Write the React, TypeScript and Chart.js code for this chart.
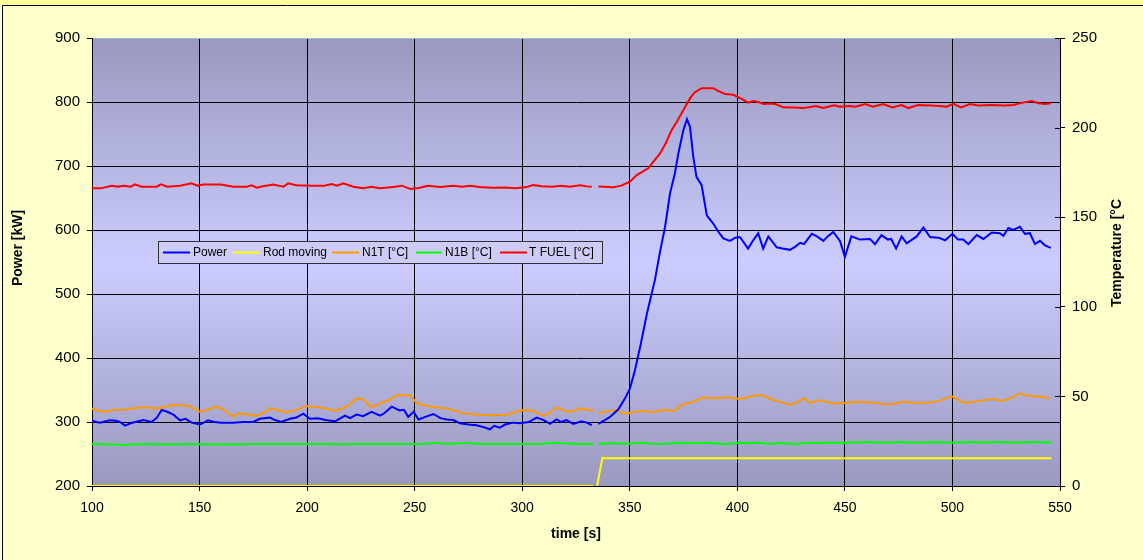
import React, { useEffect, useRef } from "react";
import { Chart, registerables } from "chart.js";

Chart.register(...registerables);

const FONT = "'Liberation Sans', Arial, sans-serif";

// Power [kW] (left axis)
const powerT = [100, 102, 104, 106, 108.4, 111, 113, 115.3, 118, 120, 123.9, 127.7, 130, 132.4, 135, 138, 140.9, 143.5, 146.3, 150.2, 154, 157, 160, 165.7, 170, 175, 178, 182.8, 185, 188, 192, 195, 198.2, 201.3, 205, 209.1, 213, 217.6, 220, 223, 226, 230, 233.9, 236, 239.3, 243, 245, 247, 249.5, 251.8, 255, 258.7, 262, 264.9, 268, 271, 275, 278.8, 282, 285, 287, 289.5, 292, 295.9, 299, 303, 306.7, 310, 312.9, 316, 318, 320.5, 323.8, 327.5, 330, 332.3, 334, 335.4, 338, 340.8, 344.7, 347.8, 350.1, 352.4, 355, 358, 361.7, 364, 366.4, 368.7, 371, 372.6, 374.9, 376.6, 378, 379.5, 381, 383.4, 385.8, 388.8, 391, 393.5, 396.6, 399, 401.2, 405, 407, 409.7, 412, 414.4, 418.3, 421, 424.5, 427, 429.2, 431, 434.6, 437, 440, 442, 444.6, 447.7, 450, 453, 457, 461.7, 464, 467, 470, 471.5, 473.8, 476.4, 478.7, 483.4, 486.5, 489.6, 493.5, 496.6, 500, 502.6, 505, 507.4, 511.3, 514.4, 518.3, 522, 523.7, 526, 528.3, 531.4, 533.7, 536, 538.4, 540.7, 543, 545.7];
const powerV = [302, 300, 299, 301, 302.6, 302, 300, 294.3, 298, 300, 303, 300, 306, 318.8, 316, 311, 302.6, 305, 299, 296, 302.6, 300, 299, 299, 300, 300, 305, 307, 303, 300, 305, 307, 313, 305, 306, 302.6, 301, 310, 306, 311.5, 309, 316, 310, 314, 324, 318, 319, 308, 316, 304, 308, 312.5, 306, 304, 303, 298, 296, 295, 292, 288.6, 294, 291, 296, 299, 298, 300, 307, 303, 297, 304, 300, 303, 297, 301, 299, 295, null, 297, 302, 308, 319.8, 337, 352.6, 381, 420, 470, 522, 565, 605, 657, 689, 720, 756, 773, 761, 715, 683, 670, 623, 610, 598, 587, 583, 588, 589, 571, 582, 595, 571, 590, 573, 571, 569, 574, 580, 578, 594, 590, 583, 590, 597, 583, 558, 590, 585, 586, 578, 592, 585, 586, 571, 590, 579, 590, 604, 589, 588, 584, 594, 585, 585, 578, 592, 586, 596, 595, 591, 603, 600, 605, 594, 595, 578, 583, 576, 572];

// Rod moving (right axis)
const rodT = [100, 333, 334, 334.8, 337.3, 338.5, 546];
const rodV = [0, 0, null, 0, 15.8, 15.5, 15.5];

// N1T [°C] (right axis)
const n1tT = [100, 103, 106.7, 110, 115, 120, 125, 130, 137.7, 145, 150, 155, 158, 162, 165.5, 168, 172, 176.6, 180, 182.8, 186, 190.5, 195, 199.8, 205, 210, 213, 218, 223, 226, 230, 233.9, 238, 241.7, 245, 247.8, 251, 257.1, 264.9, 272.6, 280.4, 286, 292.8, 296, 300.5, 305, 309.8, 313, 316, 320.6, 324, 326.9, 333, 334, 335.4, 339, 343, 348.5, 353, 356.3, 360, 365.6, 371, 374.1, 379.5, 384.2, 389, 395, 401.2, 405, 409, 412, 416.7, 420.5, 424.5, 427.5, 430.7, 433.5, 438.4, 444.6, 450.8, 456, 463, 471, 477, 482, 488, 494, 499.6, 505, 508, 512.8, 519, 523, 526.7, 531.4, 535, 540, 545.4];
const n1tV = [43.3, 42, 41.5, 42.5, 42.5, 43.5, 44, 43.3, 45.2, 44.8, 41.5, 43, 44.3, 42, 38.7, 40.5, 40, 39.1, 41, 43.3, 42.5, 41, 42.5, 44.6, 43.9, 43, 42, 44, 48.9, 48.3, 43.9, 46.1, 48, 50.8, 50.5, 50.8, 46.1, 44.3, 43.3, 40.6, 39.7, 39.5, 39.7, 41, 42.4, 42, 39.1, 41, 43.9, 41.5, 41.8, 43.3, 42, null, 40.6, 41.5, 42.2, 40.3, 41.5, 42, 41.2, 42.4, 42, 45.2, 47, 49.5, 49, 49.5, 48.5, 49.5, 50.8, 50.5, 48, 46.8, 45.2, 46.5, 49, 46.5, 47.8, 46, 46.5, 47, 46.5, 45.5, 47, 46.5, 46.5, 47.5, 50.2, 46.5, 46.8, 47.5, 48.5, 47.5, 48.8, 51.7, 50.3, 50, 49];

// N1B [°C] (right axis)
const n1bT = [100, 110, 115, 120, 128, 135, 145, 155, 165, 175, 185, 195, 205, 215, 225, 235, 245, 255, 260, 265, 275, 280, 290, 300, 310, 315, 320, 326, 333, 334, 335.4, 342, 350, 355, 360, 366, 372, 380, 387, 394, 400, 410, 415, 420, 427, 432, 440, 450, 460, 470, 475, 485, 492, 500, 508, 515, 520, 530, 538, 546];
const n1bV = [23.4, 23.2, 22.9, 23.3, 23.4, 23.2, 23.4, 23.3, 23.2, 23.4, 23.4, 23.5, 23.4, 23.3, 23.4, 23.4, 23.4, 23.6, 24.1, 23.5, 24.0, 23.4, 23.4, 23.4, 23.6, 24.1, 23.7, 23.5, 23.4, null, 23.6, 23.8, 23.6, 24.2, 23.6, 23.5, 24.0, 23.9, 24.2, 23.3, 24.0, 24.1, 23.4, 24.0, 23.3, 24.0, 24.1, 24.1, 24.5, 24.1, 24.5, 24.1, 24.6, 24.2, 24.5, 24.3, 24.6, 24.3, 24.6, 24.3];

// T FUEL [°C] (right axis)
const fuelT = [100, 104, 109.2, 112, 114.7, 117.9, 120, 123, 130, 132.1, 135, 140.9, 146.3, 149, 151.7, 160, 165.7, 171.9, 174.2, 176.6, 180, 184.3, 189, 191.2, 195, 202.9, 208, 211.4, 214, 216.8, 221.5, 226.1, 230, 233.9, 240, 244, 248, 252, 256, 262, 268, 272, 276, 280, 286, 292, 297, 302, 305, 309, 314, 318, 322, 327, 330, 332.3, 334, 335.4, 338, 342.4, 346, 350.1, 353.2, 358.6, 361, 364.1, 367, 369.5, 372, 374.1, 376, 378, 380, 383.4, 388.8, 391, 394.3, 398.1, 402, 405, 407.4, 410, 412.1, 416, 418, 421.4, 426, 430.7, 434, 436.5, 440, 445, 447.7, 452, 455, 459.4, 463, 467.9, 472, 476.4, 479.5, 484, 490, 494, 497.3, 500.4, 504, 508.2, 512, 518, 524, 528.3, 532, 536.9, 540, 543, 545.7];
const fuelV = [166.1, 166.1, 167.6, 167, 167.6, 167, 168.3, 167, 167, 168.3, 167, 167.6, 168.9, 167.6, 168.3, 168.3, 167, 167, 167.8, 166.5, 167.4, 168.3, 167, 168.9, 167.8, 167.6, 167.6, 168.5, 167.6, 168.9, 167, 166.1, 167, 166.1, 166.8, 167.6, 165.8, 166.3, 167.5, 166.8, 167.6, 167, 167.6, 166.8, 166.4, 166.6, 166.2, 166.8, 168, 167.3, 167, 167.6, 167, 167.8, 167.2, 167, null, 167.2, 167, 166.7, 167.6, 169.8, 173.5, 177.3, 181, 185.6, 192, 198.7, 203.5, 208, 212, 216.3, 219.5, 222, 222, 220.5, 218.8, 218.3, 216, 213.9, 214.8, 214.2, 213.2, 213.5, 213, 211.3, 211.2, 211, 211.5, 212, 211, 212.4, 211.7, 212, 211.6, 213.2, 211.7, 213.2, 211.3, 212.6, 210.9, 212.6, 212.4, 212, 211.7, 213.2, 211.3, 213.2, 212.4, 212.6, 212.4, 212.6, 213.8, 214.8, 213.6, 213.2, 213.6];

const seriesNames = ["Power", "Rod moving", "N1T [°C]", "N1B [°C]", "T FUEL [°C]"];
const seriesColors = ["#0000FF", "#FFFF00", "#FF9900", "#00FF00", "#FF0000"];

const xTitle = "time [s]";
const yTitle = "Power [kW]";
const y1Title = "Temperature [°C";

function pts(t: number[], v: (number | null)[]) {
  return t.map((x, i) => ({ x, y: v[i] }));
}

const decorPlugin = {
  id: "decor",
  beforeDraw(chart: any) {
    const { ctx, chartArea: a, width, height } = chart;
    ctx.save();
    ctx.fillStyle = "#FFFFCC";
    ctx.fillRect(0, 0, width, height);
    ctx.fillStyle = "#FFFF99";
    ctx.fillRect(0, 0, width, 5);
    ctx.strokeStyle = "#000";
    ctx.lineWidth = 1;
    ctx.beginPath();
    ctx.moveTo(2.5, height);
    ctx.lineTo(2.5, 5.5);
    ctx.lineTo(width, 5.5);
    ctx.stroke();
    const g = ctx.createLinearGradient(0, a.top, 0, a.bottom);
    g.addColorStop(0, "#9999BF");
    g.addColorStop(0.5, "#CCCCFF");
    g.addColorStop(1, "#9999BF");
    ctx.fillStyle = g;
    ctx.fillRect(a.left, a.top, a.right - a.left, a.bottom - a.top);
    ctx.restore();
  },
  afterDraw(chart: any) {
    const { ctx, chartArea: a } = chart;
    const y1 = chart.scales.y1;
    ctx.save();
    // inner ticks on right axis
    ctx.strokeStyle = "#000";
    ctx.lineWidth = 1;
    y1.ticks.forEach((t: any) => {
      const py = Math.round(y1.getPixelForValue(t.value)) + 0.5;
      ctx.beginPath();
      ctx.moveTo(a.right - 5, py);
      ctx.lineTo(a.right, py);
      ctx.stroke();
    });
    // axis titles
    ctx.fillStyle = "#000";
    ctx.font = `bold 14px ${FONT}`;
    ctx.textAlign = "center";
    ctx.textBaseline = "middle";
    ctx.fillText(xTitle, (a.left + a.right) / 2, 534);
    ctx.save();
    ctx.translate(18, 248);
    ctx.rotate(-Math.PI / 2);
    ctx.fillText(yTitle, 0, 0);
    ctx.restore();
    ctx.save();
    ctx.translate(1117, 253);
    ctx.rotate(-Math.PI / 2);
    ctx.fillText(y1Title, 0, 0);
    ctx.restore();
    // legend
    const lx = 158.5, ly = 241.5, lw = 444, lh = 22;
    ctx.fillStyle = "#CCCCF6";
    ctx.fillRect(lx, ly, lw, lh);
    ctx.strokeStyle = "#333";
    ctx.strokeRect(lx, ly, lw, lh);
    const items = [
      { x0: 163, x1: 190, tx: 193 },
      { x0: 233, x1: 260, tx: 263 },
      { x0: 332, x1: 359, tx: 362 },
      { x0: 416, x1: 442, tx: 445 },
      { x0: 500, x1: 527, tx: 529 },
    ];
    ctx.font = `12px ${FONT}`;
    ctx.textAlign = "left";
    ctx.textBaseline = "middle";
    const cy = 252.5;
    items.forEach((it, i) => {
      ctx.strokeStyle = seriesColors[i];
      ctx.lineWidth = 2;
      ctx.beginPath();
      ctx.moveTo(it.x0, cy);
      ctx.lineTo(it.x1, cy);
      ctx.stroke();
      ctx.fillStyle = "#000";
      ctx.fillText(seriesNames[i], it.tx, cy + 0.5);
    });
    ctx.restore();
  },
};

export default function App() {
  const ref = useRef<HTMLCanvasElement | null>(null);
  useEffect(() => {
    if (!ref.current) return;
    const mk = (i: number, t: number[], v: (number | null)[], axis: string) => ({
      label: seriesNames[i],
      data: pts(t, v),
      borderColor: seriesColors[i],
      backgroundColor: seriesColors[i],
      borderWidth: 2,
      pointRadius: 0,
      tension: 0,
      spanGaps: false,
      yAxisID: axis,
    });
    const chart = new Chart(ref.current, {
      type: "line",
      data: {
        datasets: [
          mk(0, powerT, powerV, "y"),
          mk(1, rodT, rodV, "y1"),
          mk(2, n1tT, n1tV, "y1"),
          mk(3, n1bT, n1bV, "y1"),
          mk(4, fuelT, fuelV, "y1"),
        ],
      },
      options: {
        animation: false,
        responsive: false,
        devicePixelRatio: 1,
        parsing: true,
        layout: { padding: { top: 38, left: 0, right: 0, bottom: 0 } },
        plugins: { legend: { display: false }, tooltip: { enabled: false } },
        scales: {
          x: {
            type: "linear",
            min: 100,
            max: 550,
            ticks: { stepSize: 50, color: "#000", font: { family: FONT, size: 14 }, padding: 9, maxRotation: 0 },
            grid: { color: "#000", tickColor: "#000", tickLength: 5, lineWidth: 1 },
            border: { color: "#000" },
            afterFit: (s: any) => { s.height = 74; },
          },
          y: {
            position: "left",
            min: 200,
            max: 900,
            ticks: { stepSize: 100, color: "#000", font: { family: FONT, size: 15 }, padding: 7 },
            grid: {
              color: (c: any) => (c.tick && c.tick.value === 900 ? "#8FB8E8" : "#000"),
              tickColor: "#000",
              tickLength: 5,
            },
            border: { color: "#000" },
            afterFit: (s: any) => { s.width = 92; },
          },
          y1: {
            position: "right",
            min: 0,
            max: 250,
            ticks: { stepSize: 50, color: "#000", font: { family: FONT, size: 15 }, padding: 7 },
            grid: { drawOnChartArea: false, tickColor: "#000", tickLength: 5 },
            border: { color: "#000" },
            afterFit: (s: any) => { s.width = 83; },
          },
        },
      },
      plugins: [decorPlugin],
    } as any);
    return () => chart.destroy();
  }, []);
  return (
    <div style={{ position: "absolute", left: 0, top: 0, width: 1143, height: 560 }}>
      <canvas ref={ref} width={1143} height={560} style={{ display: "block", width: 1143, height: 560 }} />
    </div>
  );
}
